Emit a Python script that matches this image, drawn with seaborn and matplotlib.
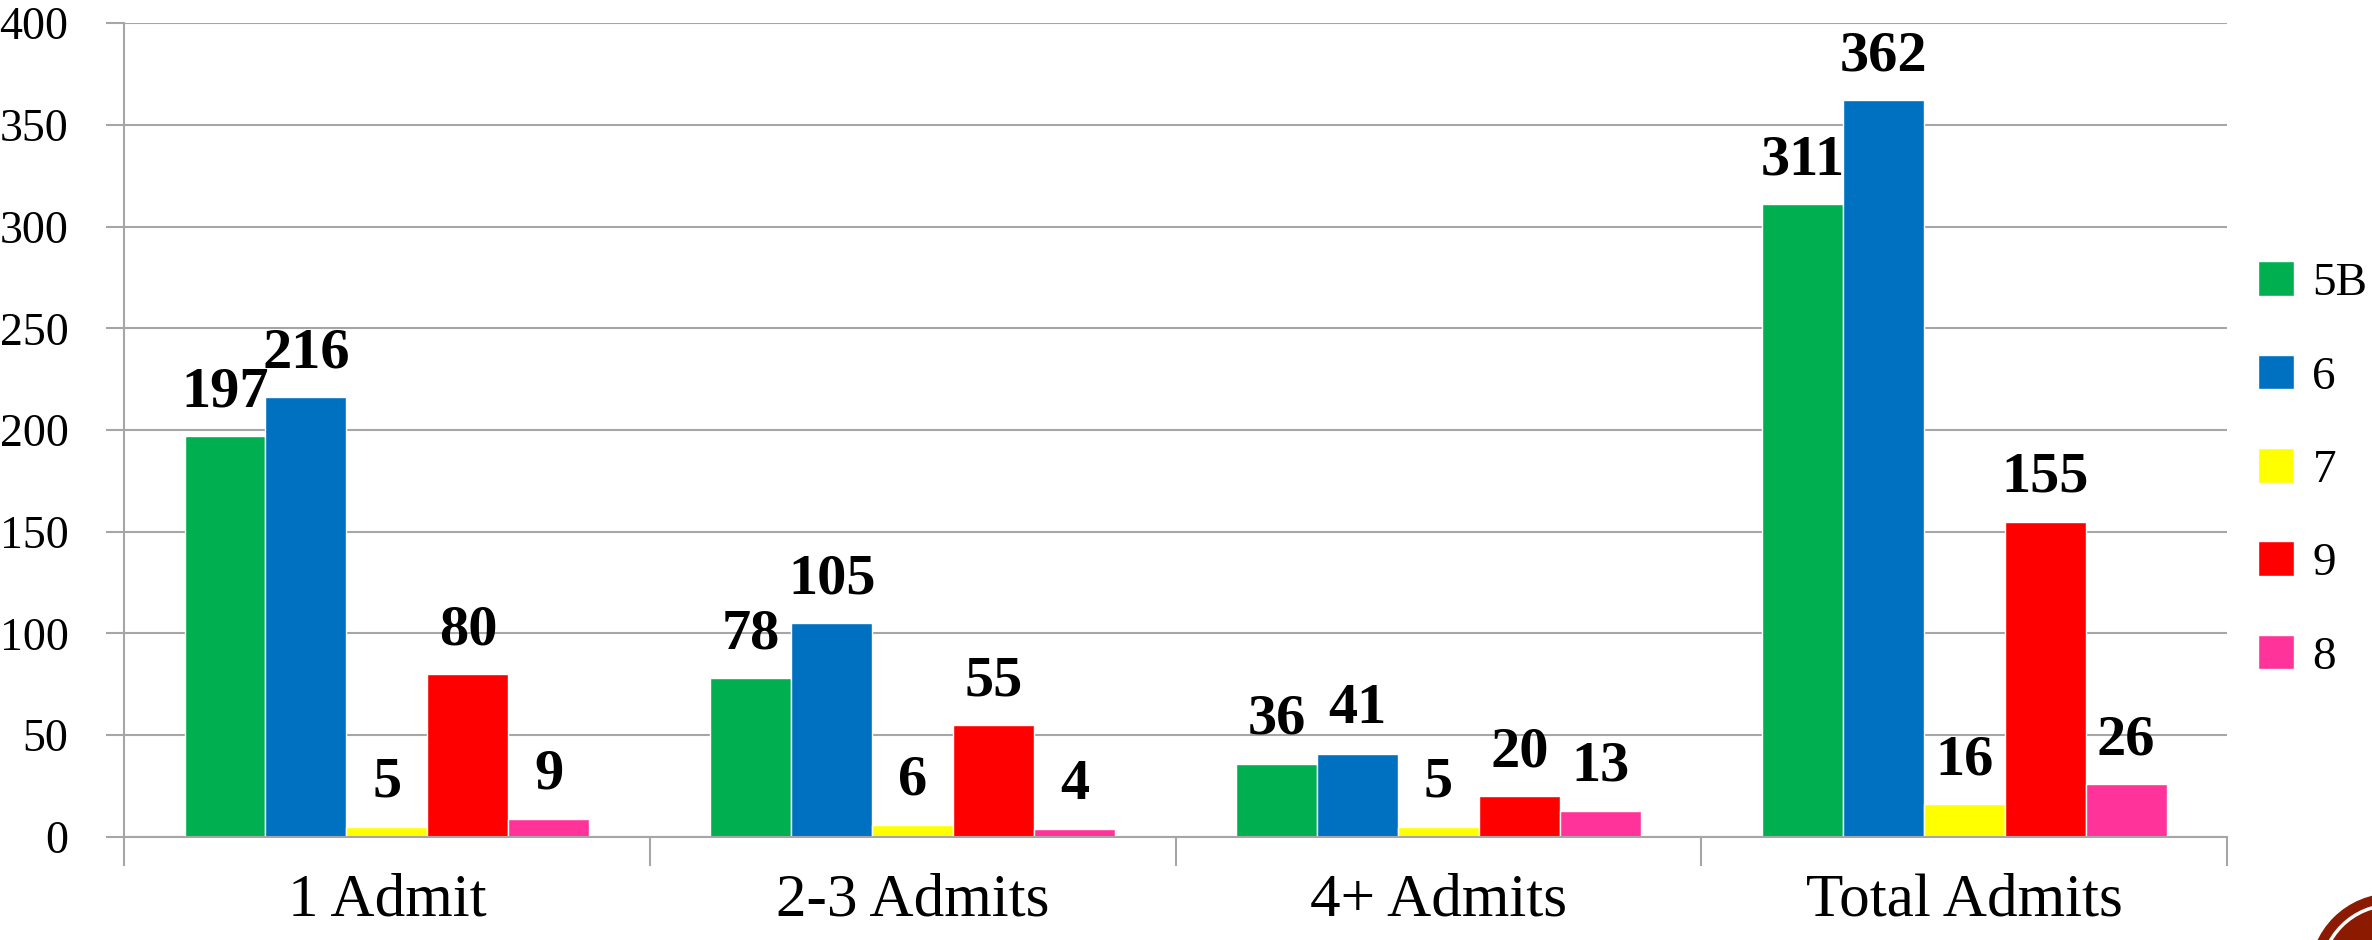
import pandas as pd
import seaborn as sns
import matplotlib.pyplot as plt
from matplotlib.patches import Circle

# 数据
categories = ["1 Admit", "2-3 Admits", "4+ Admits", "Total Admits"]
series_names = ["5B", "6", "7", "9", "8"]
v_5b = [197, 78, 36, 311]
v_6 = [216, 105, 41, 362]
v_7 = [5, 6, 5, 16]
v_9 = [80, 55, 20, 155]
v_8 = [9, 4, 13, 26]
colors = ["#00B050", "#0070C0", "#FFFF00", "#FF0000", "#FF3399"]

values = [v_5b, v_6, v_7, v_9, v_8]
rows = []
for name, vals in zip(series_names, values):
    for cat, v in zip(categories, vals):
        rows.append({"cat": cat, "series": name, "value": v})
df = pd.DataFrame(rows)

sns.set_style("white")
plt.rcParams["font.family"] = ["Liberation Serif", "DejaVu Serif"]
plt.rcParams["text.color"] = "black"
plt.rcParams["xtick.color"] = "black"
plt.rcParams["ytick.color"] = "black"

fig = plt.figure(figsize=(23.72, 9.40), dpi=100)
ax = fig.add_axes([0.0523, 0.1096, 0.8866, 0.8659])

sns.barplot(data=df, x="cat", y="value", hue="series", order=categories,
            hue_order=series_names, palette=colors, width=0.77,
            saturation=1, ax=ax, gap=0)

for c in ax.containers:
    ax.bar_label(c, fmt="%d", padding=13, fontsize=42, fontweight="bold",
                 color="black")

ax.set_ylim(0, 400)
ax.set_xlim(-0.5, 3.5)
ax.set_yticks(range(0, 401, 50))
ax.yaxis.grid(True, color="#a6a6a6", linewidth=1.5)
ax.set_axisbelow(True)
for s in ["top", "right"]:
    ax.spines[s].set_visible(False)
for s in ["left", "bottom"]:
    ax.spines[s].set_color("#a6a6a6")
    ax.spines[s].set_linewidth(1.5)
ax.tick_params(axis="y", direction="out", length=13, width=1.5, color="#a6a6a6",
               labelcolor="black", labelsize=33, pad=27, left=True)
ax.tick_params(axis="x", which="major", length=0, labelsize=44, pad=26,
               labelcolor="black")
ax.set_xticks([-0.5, 0.5, 1.5, 2.5, 3.5], minor=True)
ax.tick_params(axis="x", which="minor", direction="out", length=21, width=1.5,
               color="#a6a6a6", bottom=True)
ax.set_xlabel("")
ax.set_ylabel("")

ax.legend(loc="center left", bbox_to_anchor=(0.952, 0.5), bbox_transform=fig.transFigure,
          frameon=False, fontsize=34, handlelength=0.75, handleheight=0.75,
          labelspacing=1.05, handletextpad=0.4, borderaxespad=0, borderpad=0)

# logo in the corner (pixel coords)
fig.patches.append(Circle((2392, -36), 82, transform=None, color="#8B1A00",
                          clip_on=False))
fig.patches.append(Circle((2392, -36), 71, transform=None, fill=False,
                          edgecolor="white", linewidth=2.5, clip_on=False))

fig.savefig("out.png", dpi=100)
